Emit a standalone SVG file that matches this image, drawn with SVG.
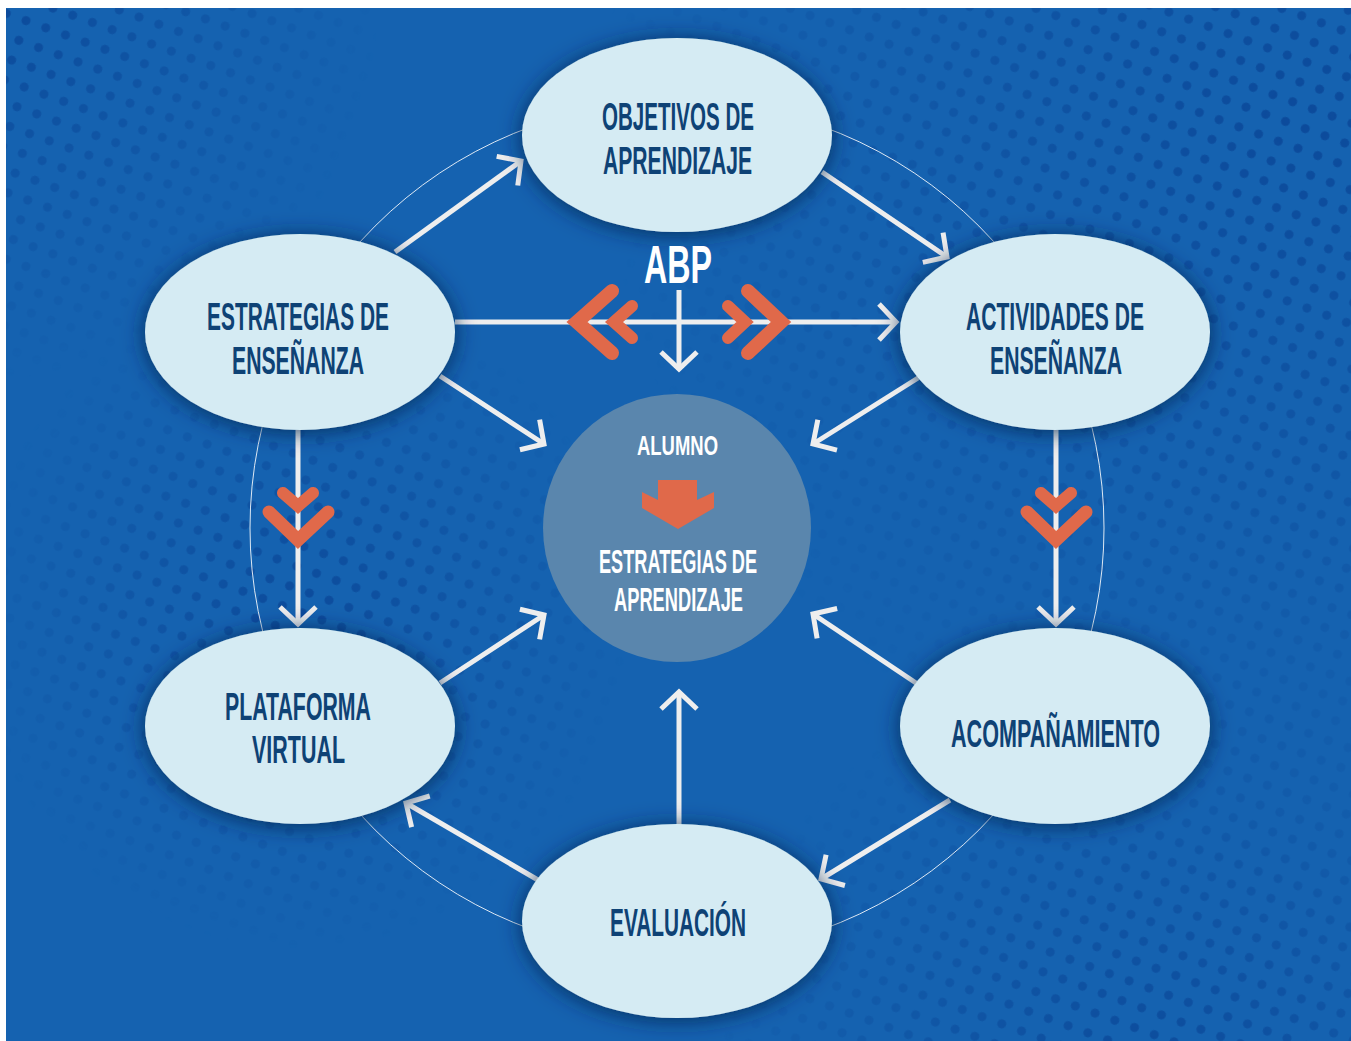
<svg xmlns="http://www.w3.org/2000/svg" width="1351" height="1041" viewBox="0 0 1351 1041">
<style>
.node{fill:#d5ebf3;filter:url(#sh)}
.lbl{font-family:"Liberation Sans",Arial,sans-serif;font-weight:bold;font-size:38px;fill:#0e4275;text-anchor:middle}
.wl{font-family:"Liberation Sans",Arial,sans-serif;font-weight:bold;fill:#ffffff;text-anchor:middle}
.con{stroke:#eeeeee;stroke-width:5;fill:none;marker-end:url(#ah)}
.chev{stroke:#e0694a;fill:none;stroke-linecap:round;stroke-linejoin:miter}
</style>
<defs>
<marker id="ah" markerUnits="userSpaceOnUse" markerWidth="40" markerHeight="40" viewBox="-20 -20 40 40" refX="0" refY="0" orient="auto">
<path d="M-17,-18 L0,0 L-17,18" fill="none" stroke="#eeeeee" stroke-width="5"/>
</marker>
<filter id="sh" x="-30%" y="-30%" width="160%" height="160%">
<feDropShadow dx="0" dy="2" stdDeviation="11" flood-color="#052650" flood-opacity="0.85"/>
</filter>
<pattern id="dots" width="21" height="21" patternUnits="userSpaceOnUse" patternTransform="rotate(20)">
<circle cx="10.5" cy="10.5" r="4.5" fill="#0a4596"/>
</pattern>
<radialGradient id="g1"><stop offset="0" stop-color="#fff" stop-opacity="1"/><stop offset="1" stop-color="#fff" stop-opacity="0"/></radialGradient>
<mask id="dm">
<circle cx="1300" cy="120" r="700" fill="url(#g1)"/>
<circle cx="0" cy="0" r="380" fill="url(#g1)"/>
<circle cx="1150" cy="1100" r="450" fill="url(#g1)"/>
<circle cx="300" cy="620" r="330" fill="url(#g1)"/>
</mask>
</defs>
<rect x="0" y="0" width="1351" height="1041" fill="#ffffff"/>
<rect x="6" y="8" width="1345" height="1033" fill="#1562b0"/>
<rect x="6" y="8" width="1345" height="1033" fill="url(#dots)" mask="url(#dm)" opacity="0.8"/>
<circle cx="677" cy="528" r="427" fill="none" stroke="#ffffff" stroke-width="1" opacity="0.85"/>
<g id="connectors">
<line class="con" x1="395" y1="252" x2="521" y2="161"/>
<line class="con" x1="822" y1="172" x2="947" y2="257"/>
<line class="con" x1="455" y1="322" x2="896" y2="322"/>
<line class="con" x1="679" y1="290" x2="679" y2="369"/>
<line class="con" x1="440" y1="376" x2="544" y2="444"/>
<line class="con" x1="918" y1="378" x2="813" y2="444"/>
<line class="con" x1="298" y1="430" x2="298" y2="624"/>
<line class="con" x1="1056" y1="430" x2="1056" y2="624"/>
<line class="con" x1="440" y1="683" x2="544" y2="615"/>
<line class="con" x1="916" y1="683" x2="813" y2="614"/>
<line class="con" x1="679" y1="826" x2="679" y2="692"/>
<line class="con" x1="950" y1="800" x2="821" y2="879"/>
<line class="con" x1="538" y1="880" x2="406" y2="803"/>
<g id="chevrons">
<polyline class="chev" stroke-width="14" points="612,291 577,322 612,353"/>
<polyline class="chev" stroke-width="12" points="632,306 614,322 632,338"/>
<polyline class="chev" stroke-width="14" points="748,291 781,322 748,353"/>
<polyline class="chev" stroke-width="12" points="728,306 745,322 728,338"/>
<polyline class="chev" stroke-width="12" points="283,493 298,506 313,493"/>
<polyline class="chev" stroke-width="13" points="269,512 298,540 328,512"/>
<polyline class="chev" stroke-width="12" points="1041,493 1056,506 1071,493"/>
<polyline class="chev" stroke-width="13" points="1027,512 1056,540 1086,512"/>
</g>
</g>
<g id="n-objetivos">
<ellipse class="node" cx="677" cy="135" rx="155" ry="97"/>
<text class="lbl" x="678" y="130" textLength="152" lengthAdjust="spacingAndGlyphs">OBJETIVOS DE</text>
<text class="lbl" x="677.5" y="174" textLength="149" lengthAdjust="spacingAndGlyphs">APRENDIZAJE</text>
</g>
<g id="n-estrategias">
<ellipse class="node" cx="300" cy="332" rx="155" ry="98"/>
<text class="lbl" x="298" y="330" textLength="182" lengthAdjust="spacingAndGlyphs">ESTRATEGIAS DE</text>
<text class="lbl" x="298" y="374" textLength="132" lengthAdjust="spacingAndGlyphs">ENSEÑANZA</text>
</g>
<g id="n-actividades">
<ellipse class="node" cx="1055" cy="332" rx="155" ry="98"/>
<text class="lbl" x="1055" y="330" textLength="178" lengthAdjust="spacingAndGlyphs">ACTIVIDADES DE</text>
<text class="lbl" x="1056" y="374" textLength="132" lengthAdjust="spacingAndGlyphs">ENSEÑANZA</text>
</g>
<g id="n-plataforma">
<ellipse class="node" cx="300" cy="726" rx="155" ry="98"/>
<text class="lbl" x="298" y="720" textLength="146" lengthAdjust="spacingAndGlyphs">PLATAFORMA</text>
<text class="lbl" x="298.5" y="763" textLength="93" lengthAdjust="spacingAndGlyphs">VIRTUAL</text>
</g>
<g id="n-acompanamiento">
<ellipse class="node" cx="1055" cy="726" rx="155" ry="98"/>
<text class="lbl" x="1055.5" y="747" textLength="209" lengthAdjust="spacingAndGlyphs">ACOMPAÑAMIENTO</text>
</g>
<g id="n-evaluacion">
<ellipse class="node" cx="677" cy="921" rx="155" ry="97"/>
<text class="lbl" x="678" y="936" textLength="136" lengthAdjust="spacingAndGlyphs">EVALUACIÓN</text>
</g>
<g id="n-abp">
<text class="wl" x="678" y="283" font-size="53" textLength="68" lengthAdjust="spacingAndGlyphs">ABP</text>
</g>
<g id="n-alumno">
<circle cx="677" cy="528" r="134" fill="#5a86ad"/>
<text class="wl" x="677.5" y="455" font-size="28" textLength="81" lengthAdjust="spacingAndGlyphs">ALUMNO</text>
<polygon points="658,480 697,480 697,500 714,492 714,508 678,529 642,508 642,492 658,500" fill="#e0694a"/>
<text class="wl" x="678" y="573" font-size="33" textLength="158" lengthAdjust="spacingAndGlyphs">ESTRATEGIAS DE</text>
<text class="wl" x="678.5" y="611" font-size="33" textLength="129" lengthAdjust="spacingAndGlyphs">APRENDIZAJE</text>
</g>
</svg>
